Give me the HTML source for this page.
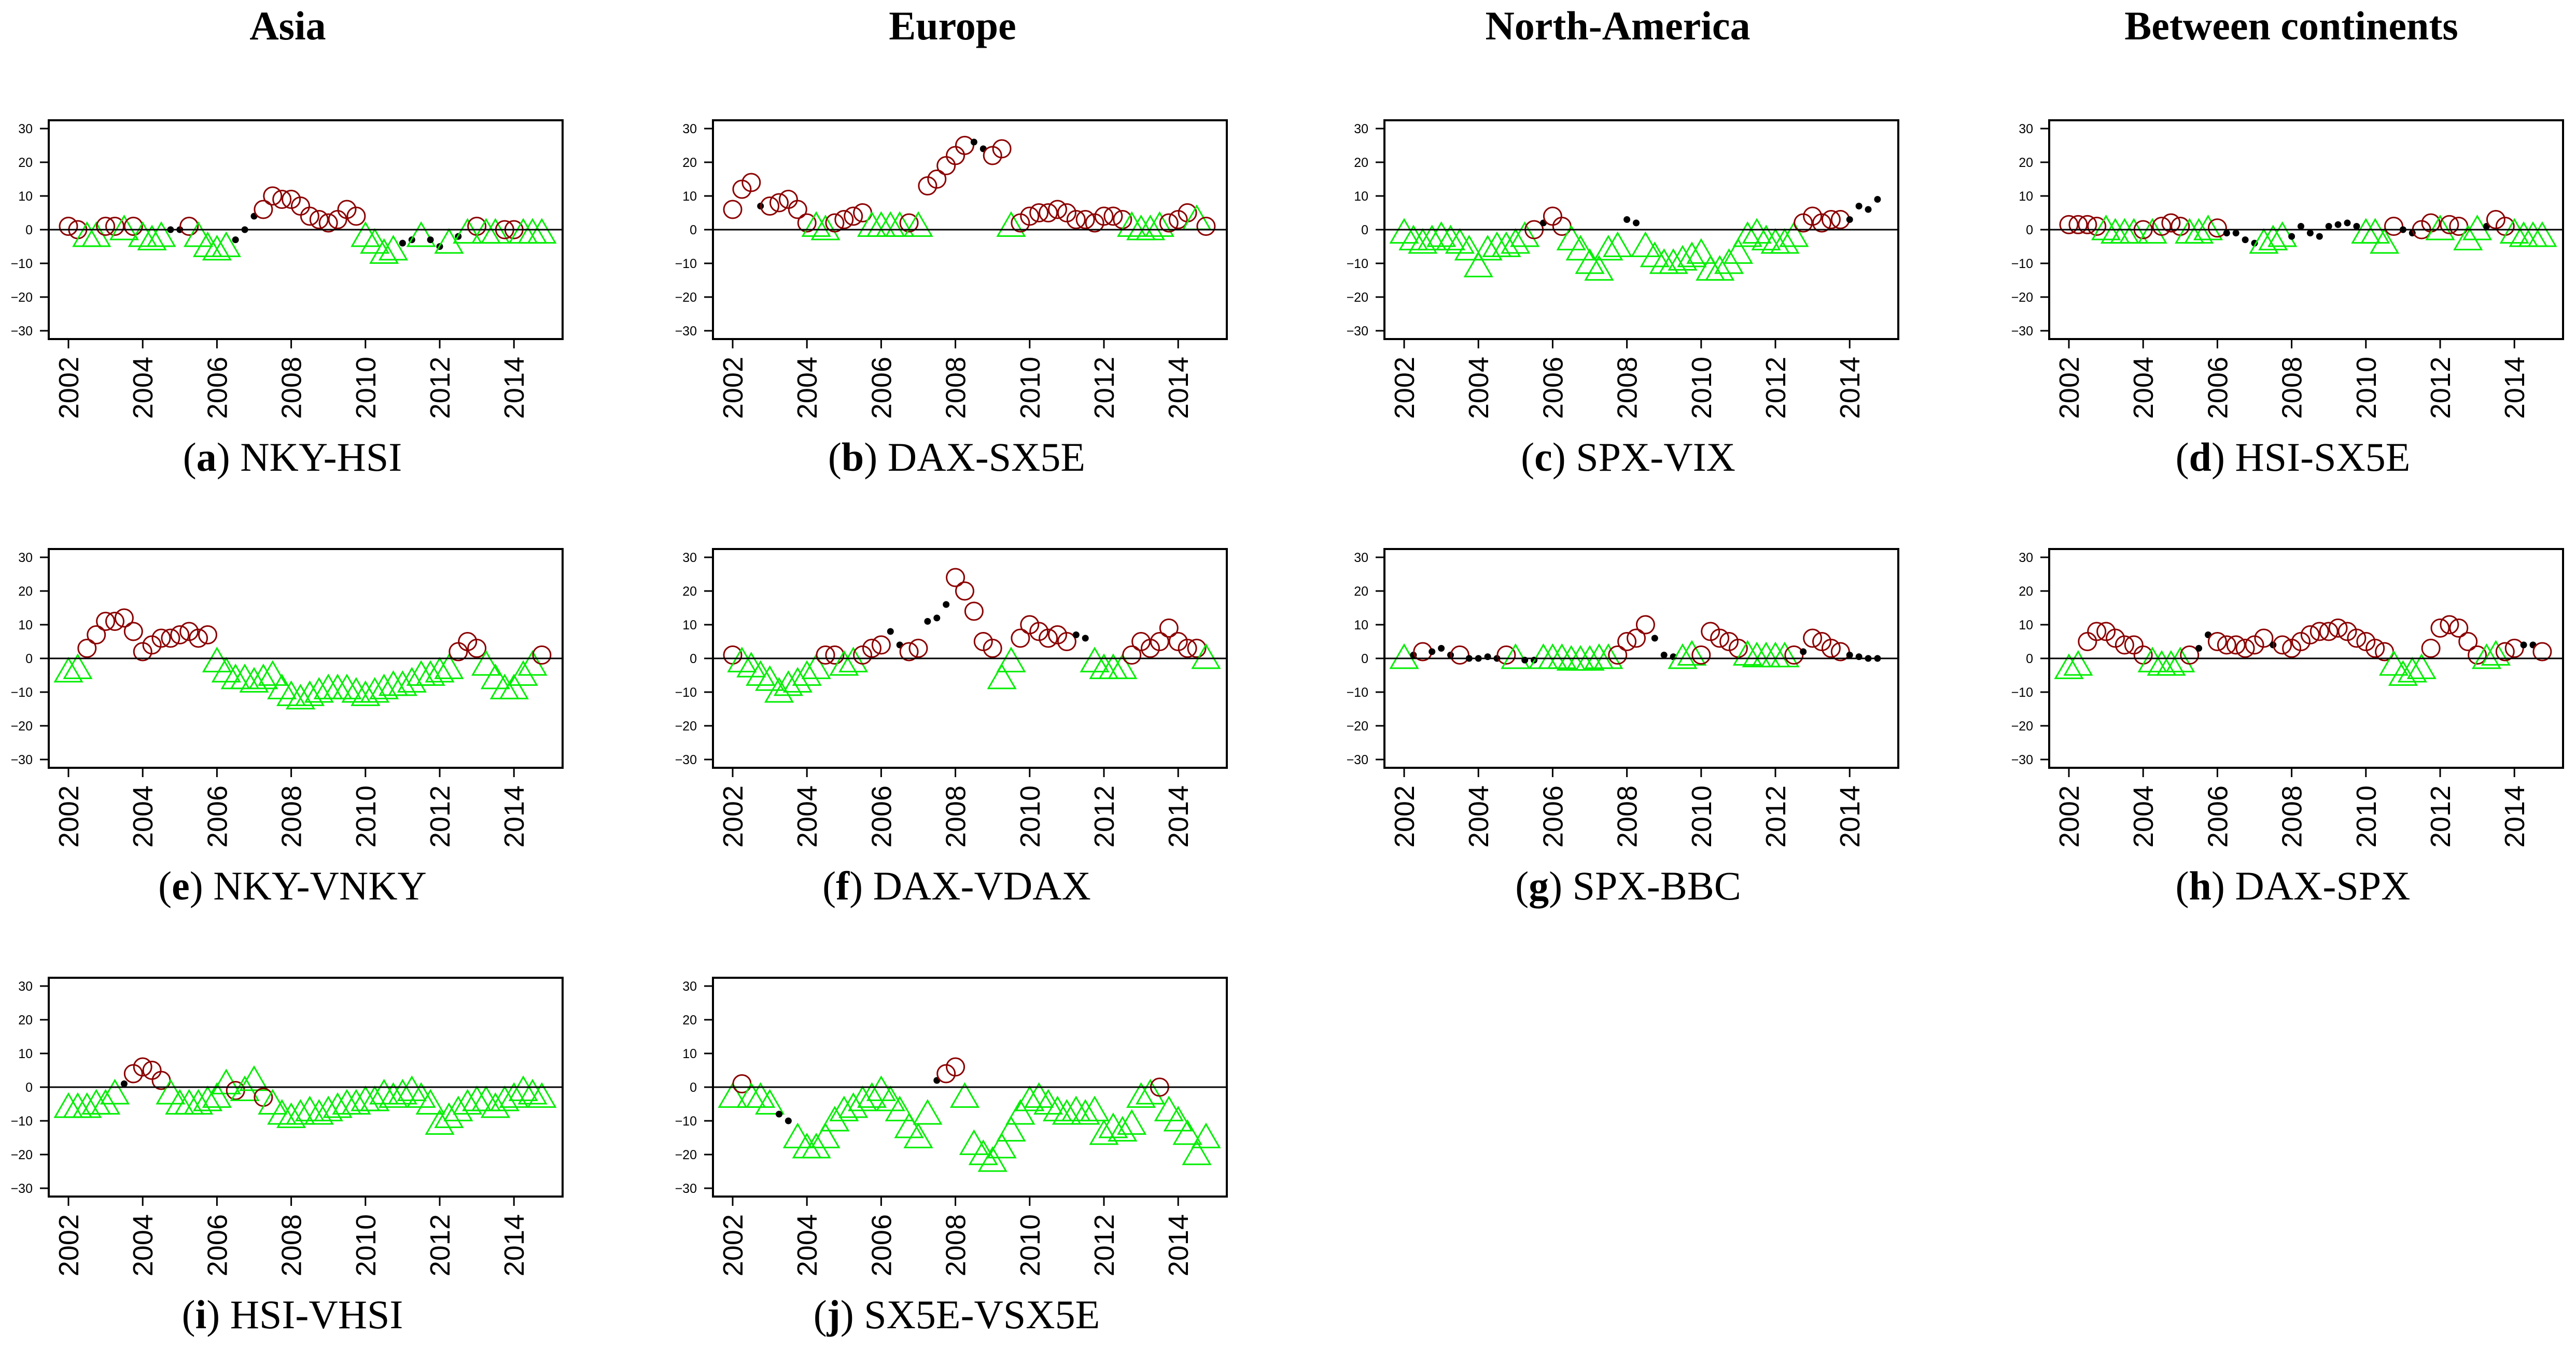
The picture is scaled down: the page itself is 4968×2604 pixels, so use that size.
<!DOCTYPE html>
<html><head><meta charset="utf-8">
<style>
html,body{margin:0;padding:0;background:#fff;}
svg{display:block;}
</style></head>
<body>
<svg id="fig" width="4968" height="2604" viewBox="0 0 4968 2604" xmlns="http://www.w3.org/2000/svg">
<rect x="0" y="0" width="4968" height="2604" fill="#fff"/>
<g font-family="'Liberation Serif', serif" font-weight="bold" font-size="78" text-anchor="middle">
<text x="555" y="76">Asia</text>
<text x="1837" y="76">Europe</text>
<text x="3120" y="76">North-America</text>
<text x="4419" y="76">Between continents</text>
</g>
<g id="panels"></g>
</svg>
<script>
const years = [2002,2002.25,2002.5,2002.75,2003,2003.25,2003.5,2003.75,2004,2004.25,2004.5,2004.75,2005,2005.25,2005.5,2005.75,2006,2006.25,2006.5,2006.75,2007,2007.25,2007.5,2007.75,2008,2008.25,2008.5,2008.75,2009,2009.25,2009.5,2009.75,2010,2010.25,2010.5,2010.75,2011,2011.25,2011.5,2011.75,2012,2012.25,2012.5,2012.75,2013,2013.25,2013.5,2013.75,2014,2014.25,2014.5,2014.75];
const xTicks = [2002,2004,2006,2008,2010,2012,2014];
const yTicks = [30,20,10,0,-10,-20,-30];
const panelLetters = ["a","b","c","d","e","f","g","h","i","j"];
const panelNames = ["NKY-HSI","DAX-SX5E","SPX-VIX","HSI-SX5E","NKY-VNKY","DAX-VDAX","SPX-BBC","DAX-SPX","HSI-VHSI","SX5E-VSX5E"];
// r = significant positive (circle), g = significant negative (triangle), k = not significant (dot)
const valsA = [1,0,-2,-2,1,1,0,1,-2,-3,-2,0,0,1,-2,-5,-6,-5,-3,0,4,6,10,9,9,7,4,3,2,3,6,4,-2,-4,-7,-6,-4,-3,-2,-3,-5,-4,-2,-1,1,-1,-1,0,0,-1,-1,-1];
const typeA = "rrggrrgrgggkkrggggkkkrrrrrrrrrrrggggkkgkkgkgrggrrggg";
const valsB = [6,12,14,7,7,8,9,6,2,1,0,2,3,4,5,1,1,1,1,2,1,13,15,19,22,25,26,24,22,24,1,2,4,5,5,6,5,3,3,2,4,4,3,1,0,0,1,2,3,5,3,1];
const typeB = "rrrkrrrrrggrrrrggggrgrrrrrkkrrgrrrrrrrrrrrrggggrrrgr";
const valsC = [-1,-3,-4,-3,-2,-3,-4,-6,-11,-6,-5,-5,-4,-2,0,2,4,1,-3,-6,-10,-12,-6,-5,3,2,-5,-8,-10,-10,-9,-8,-7,-12,-12,-10,-7,-2,-1,-3,-4,-4,-2,2,4,2,3,3,3,7,6,9];
const typeC = "ggggggggggggggrkrrggggggkkgggggggggggggggggrrrrrkkkk";
const valsD = [1.5,1.5,1.5,1,0,-1,-1,-1,0,-1,1,2,1,-1,-1,0,0.5,-1,-1,-3,-4,-4,-3,-2,-2,1,-1,-2,1,1.5,2,1,-1,-1,-4,1,0,-1,0,2,0,1.5,1,-3,0,1,3,1,-1,-2,-2,-2];
const typeD = "rrrrggggrgrrrgggrkkkkgggkkkkkkkkgggrkkrrgrrggkrrgggg";
const valsE = [-4,-3,3,7,11,11,12,8,2,4,6,6,7,8,6,7,-1,-4,-6,-6,-7,-6,-5,-9,-11,-12,-11,-10,-9,-9,-9,-10,-11,-10,-9,-8,-8,-7,-5,-5,-4,-3,2,5,3,-2,-6,-9,-9,-5,-2,1];
const typeE = "ggrrrrrrrrrrrrrrggggggggggggggggggggggggggrrrggggggr";
const valsF = [1,-1,-2.5,-5,-6.5,-10,-8,-7,-5,-3,1,1,-2,-1,1,3,4,8,4,2,3,11,12,16,24,20,14,5,3,-6,-1,6,10,8,6,7,5,7,6,-1,-3,-3,-3,1,5,3,5,9,5,3,3,0];
const typeF = "rgggggggggrrggrrrkkrrkkkrrrrrggrrrrrrkkggggrrrrrrrrg";
const valsG = [0,1,2,2,3,1,1,0,0,0.5,0,1,0,-0.5,-0.5,0,0,0,-0.5,-0.5,-0.5,0,0,1,5,6,10,6,1,0.5,0,1,1,8,6,5,3,1,0.5,0.5,0.5,0.5,1,2,6,5,3,2,1,0.5,0,0];
const typeG = "gkrkkkrkkkkrgkkggggggggrrrrkkkggrrrrrgggggrkrrrrkkkk";
const valsH = [-3,-2,5,8,8,6,4,4,1,-1,-2,-2,-1,1,3,7,5,4,4,3,4,6,4,4,3,5,7,8,8,9,8,6,5,3,2,-2,-5,-4,-3,3,9,10,9,5,1,0,1,2,3,4,4,2];
const typeH = "ggrrrrrrrggggrkkrrrrrrkrrrrrrrrrrrrggggrrrrrrggrrkkr";
const valsI = [-6,-6,-6,-5,-5,-2,1,4,6,5,2,-2,-5,-5,-5,-4,-3,1,-1,-1,2,-3,-5,-8,-9,-8,-7,-8,-7,-6,-5,-5,-4,-4,-2,-3,-2,-1,-3,-5,-11,-9,-7,-5,-4,-4,-6,-4,-3,-1,-2,-3];
const typeI = "ggggggkrrrrgggggggrggrgggggggggggggggggggggggggggggg";
const valsJ = [-3,1,-3,-3,-5,-8,-10,-15,-18,-18,-15,-10,-7,-6,-4,-3,-1,-4,-7,-12,-15,-8,2,4,6,-3,-17,-20,-22,-18,-13,-8,-4,-3,-5,-7,-8,-7,-8,-7,-14,-12,-13,-11,-3,-2,0,-7,-10,-14,-20,-15];
const typeJ = "grgggkkggggggggggggggggkrrgggggggggggggggggggggrggggg".slice(0,0) + "grgggkkgggggggggggggggkrrgggggggggggggggggggggrggggg";
const allVals = [valsA,valsB,valsC,valsD,valsE,valsF,valsG,valsH,valsI,valsJ];
const allTypes = [typeA,typeB,typeC,typeD,typeE,typeF,typeG,typeH,typeI,typeJ];

const NS = "http://www.w3.org/2000/svg";
const colLeft = [94,1375,2670,3952];
const rowZero = [443,1270,2097];
const BOX_W = 991, HALF_H = 211, PX_YEAR = 71.6, PX_UNIT = 6.5;
const root = document.getElementById('panels');
function mk(tag, attrs, parent){
  const e = document.createElementNS(NS, tag);
  for (const k in attrs) e.setAttribute(k, attrs[k]);
  parent.appendChild(e);
  return e;
}
for (let p = 0; p < 10; p++){
  const col = p % 4, row = Math.floor(p / 4);
  const left = colLeft[col], zero = rowZero[row];
  const top = zero - HALF_H, bottom = zero + HALF_H;
  const xs = y => left + 38 + (y - 2002) * PX_YEAR;
  const ys = v => zero - v * PX_UNIT;
  const g = mk('g', {}, root);
  
  
  const mg = mk('g', {}, g);
  
  
  const vals = allVals[p], types = allTypes[p];
  for (let i = 0; i < years.length; i++){
    const cx = xs(years[i]), cy = ys(vals[i]), t = types[i];
    let m;
    if (t === 'r'){
      m = mk('circle', {cx:cx, cy:cy, r:17, fill:'none', stroke:'#8b0000', 'stroke-width':3}, mg);
      
    } else if (t === 'g'){
      const w = 52, h = 45;
      const pts = `${cx},${cy-0.58*h} ${cx-w/2},${cy+0.42*h} ${cx+w/2},${cy+0.42*h}`;
      m = mk('polygon', {points:pts, fill:'none', stroke:'#00ee00', 'stroke-width':3}, mg);
      
    } else {
      m = mk('circle', {cx:cx, cy:cy, r:6.5, fill:'#000'}, mg);
      
    }
    
  }
  const zl = mk('line', {x1:left, x2:left+BOX_W, y1:ys(0), y2:ys(0), stroke:'#000', 'stroke-width':3}, g);
  
  
  const box = mk('rect', {x:left, y:top, width:BOX_W, height:bottom-top, fill:'none', stroke:'#000', 'stroke-width':4}, g);
  
  
  const ya = mk('g', {}, g);
  
  
  for (const v of yTicks){
    const y = ys(v);
    mk('line', {x1:left-17, x2:left, y1:y, y2:y, stroke:'#000', 'stroke-width':3}, ya);
    const tx = mk('text', {x:left-31, y:y+9, 'text-anchor':'end', 'font-family':"'Liberation Sans', sans-serif", 'font-size':25}, ya);
    tx.textContent = v < 0 ? '\u2212' + Math.abs(v) : String(v);
    
    
  }
  const xa = mk('g', {}, g);
  
  
  for (const yr of xTicks){
    const x = xs(yr);
    mk('line', {x1:x, x2:x, y1:bottom, y2:bottom+18, stroke:'#000', 'stroke-width':3}, xa);
    const tx = mk('text', {transform:`translate(${x+19},${bottom+34}) rotate(-90)`, 'text-anchor':'end', 'font-family':"'Liberation Sans', sans-serif", 'font-size':54}, xa);
    tx.textContent = String(yr);
    
    
  }
  const cap = mk('text', {x:left+470, y:zero+465, 'text-anchor':'middle', 'font-family':"'Liberation Serif', serif", 'font-size':78}, g);
  
  
  const t1 = mk('tspan', {}, cap); t1.textContent = '(';
  const t2 = mk('tspan', {'font-weight':'bold'}, cap); t2.textContent = panelLetters[p];
  const t3 = mk('tspan', {}, cap); t3.textContent = ') ' + panelNames[p];
}
</script>
</body></html>
